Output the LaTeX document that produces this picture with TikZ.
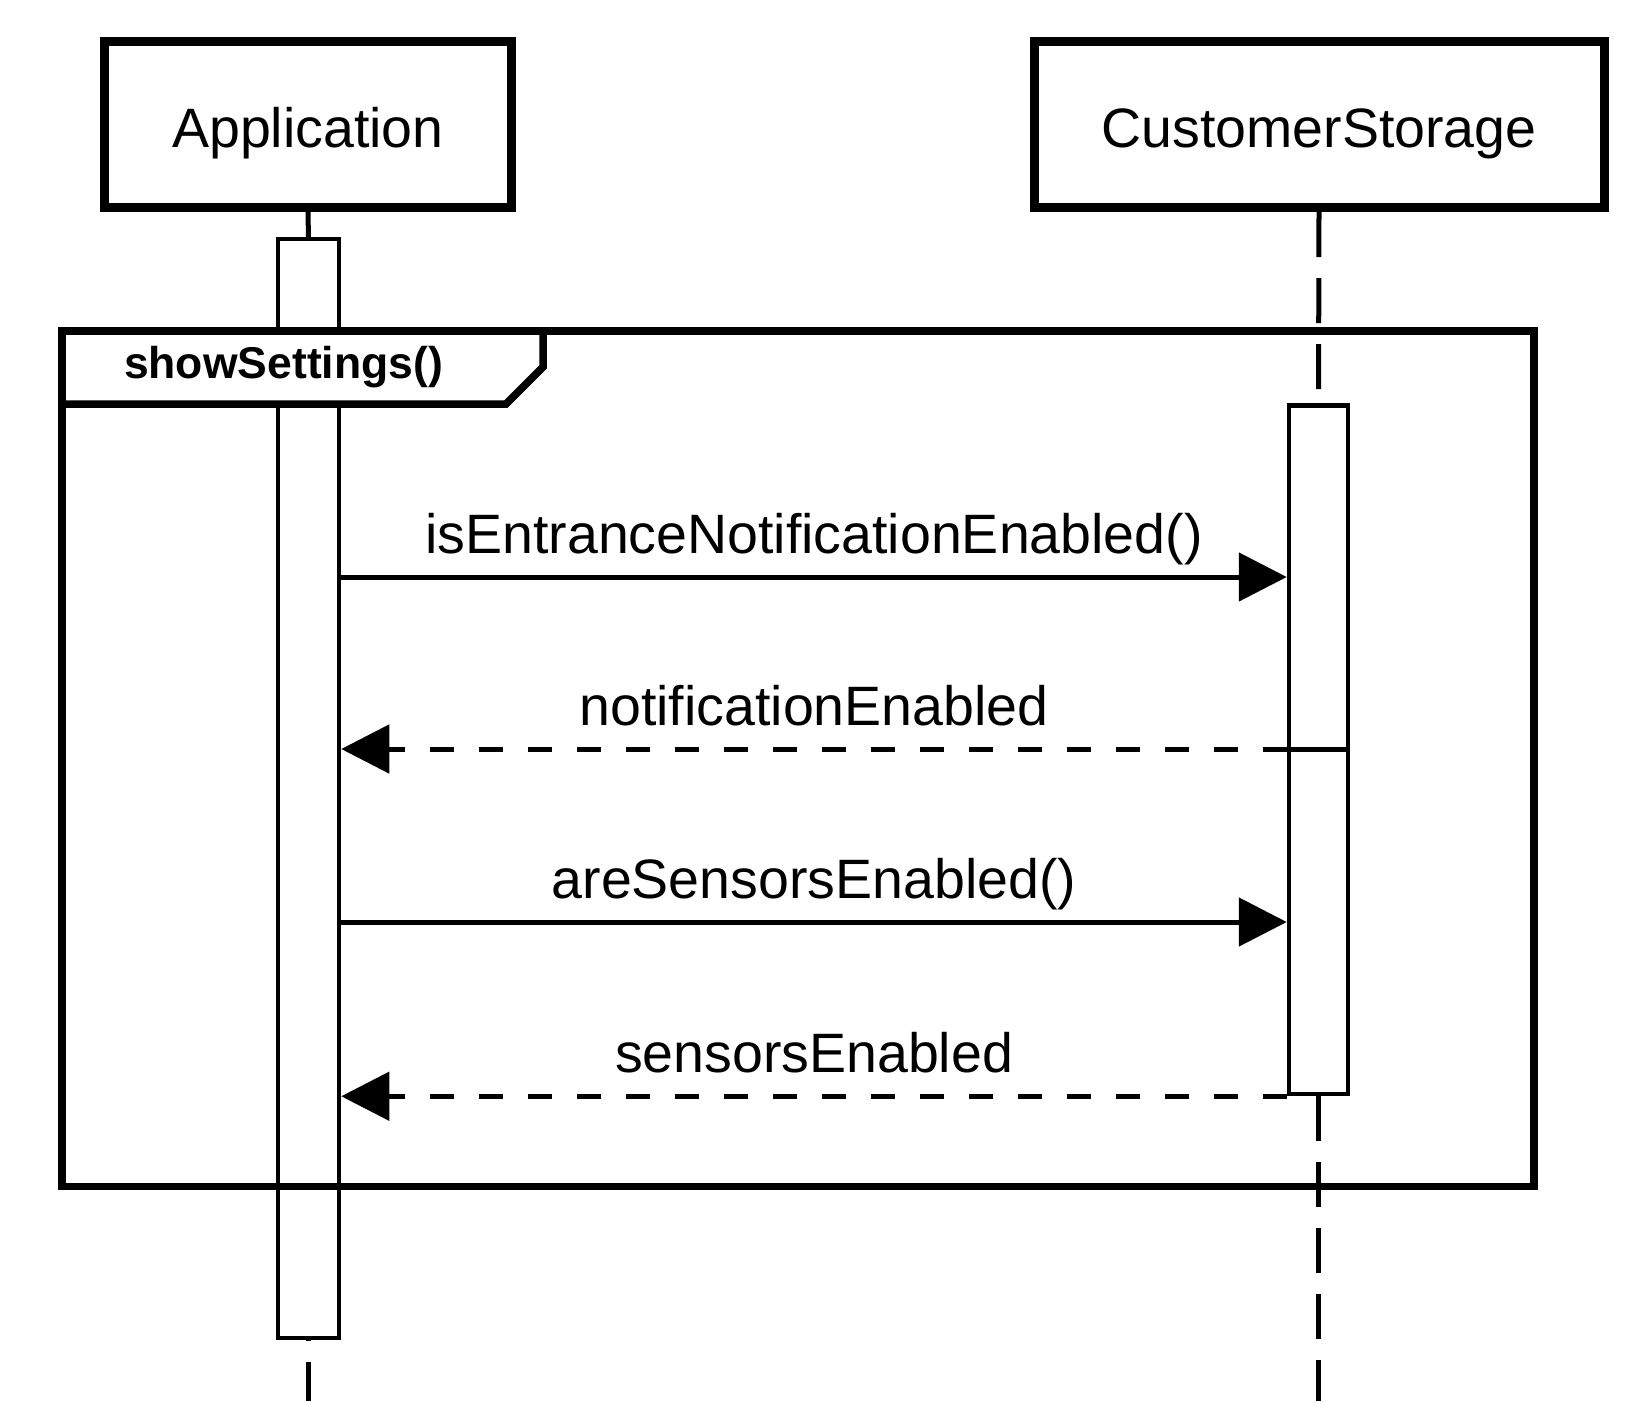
\documentclass[tikz,border=0pt]{standalone}
\usepackage{fontspec}
\setmainfont{Liberation Sans}
\usetikzlibrary{arrows.meta}

\begin{document}
\begin{tikzpicture}[x=1pt, y=-1pt,
    head/.style={draw, line width=9pt, minimum width=407pt, minimum height=166pt, inner sep=0pt,
        font=\fontsize{55.5}{60}\selectfont, text height=65pt, text depth=20pt},
    bar/.style={draw, fill=white, line width=4.5pt, minimum width=61pt, inner sep=0pt},
    lifeline/.style={line width=5pt, dash pattern=on 45pt off 21pt},
    call/.style={line width=5pt, -{Triangle[length=48pt, width=48pt]}},
    reply/.style={call, dash pattern=on 24pt off 25pt},
    msg/.style={anchor=base, yshift=24pt, font=\fontsize{55.5}{60}\selectfont}]
    \useasboundingbox (0,0) rectangle (1635,1401);
    % participants
    \node[head] (app) at (308,124.5) {Application};
    \node[head, minimum width=570pt] (store) at (1319,124.5) {CustomerStorage};
    \coordinate (append) at (308.5,1401);
    \coordinate (storeend) at (1318.5,1401);
    % lifelines
    \draw[line width=5pt] (app.south) -- (308.5,239);
    \node[bar, minimum height=1099pt] (appbar) at (308.5,788.5) {};
    \draw[lifeline, dash phase=44pt] (appbar.south) -- (append);
    \draw[lifeline] (store.south) -- (1318.5,405.5);
    \node[bar, minimum width=59pt, minimum height=688.5pt] (storebar) at (1318.5,749.75) {};
    \draw[lifeline] (storebar.south) -- (storeend);
    % frame
    \draw[line width=7.5pt] (62,331) rectangle (1534,1186.5);
    \filldraw[fill=white, line width=7.5pt] (62,331) -- (543,331) -- (543,367) -- (506,404) -- (62,404) -- cycle;
    \node[anchor=base, font=\bfseries\fontsize{44.5}{48}\selectfont] (fname) at (283.5,378) {showSettings()};
    % messages
    \coordinate (a1) at (appbar.east |- 0,577);
    \coordinate (s1) at (storebar.west |- 0,577);
    \draw[call] (a1) -- node[msg] {isEntranceNotificationEnabled()} (s1);
    \coordinate (s2) at (storebar.west |- 0,749);
    \coordinate (a2) at (appbar.east |- 0,749);
    \draw[line width=5pt] (storebar.east |- s2) -- (s2);
    \draw[reply] (s2) -- node[msg] {notificationEnabled} (a2);
    \coordinate (a3) at (appbar.east |- 0,922);
    \coordinate (s3) at (storebar.west |- 0,922);
    \draw[call] (a3) -- node[msg] {areSensorsEnabled()} (s3);
    \coordinate (s4) at (storebar.south west);
    \coordinate (a4) at (appbar.east |- s4);
    \draw[reply] (s4) -- node[msg] {sensorsEnabled} (a4);
\end{tikzpicture}
\end{document}
